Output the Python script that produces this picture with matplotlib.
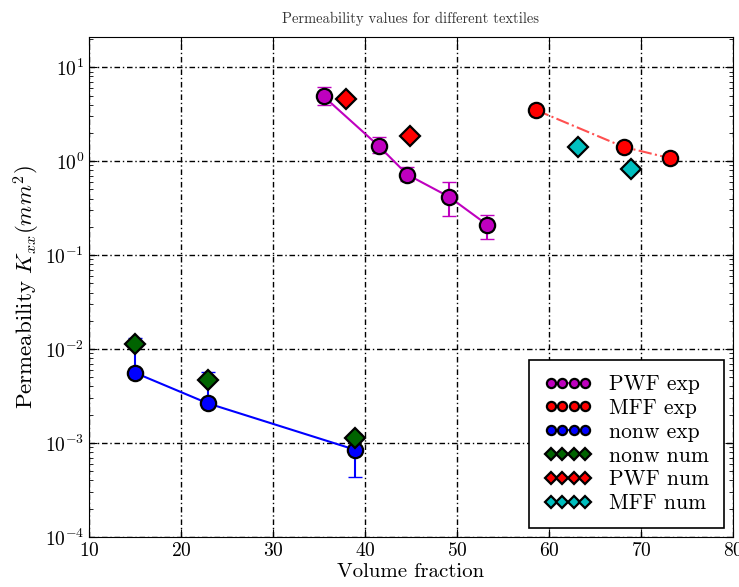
import matplotlib
matplotlib.use("Agg")
import matplotlib.pyplot as plt
import numpy as np

plt.rcParams['font.family'] = 'cmr10'
plt.rcParams['mathtext.fontset'] = 'cm'
plt.rcParams['axes.formatter.use_mathtext'] = True
plt.rcParams['xtick.direction'] = 'in'
plt.rcParams['ytick.direction'] = 'in'

# PWF experiments
pwf_x = [35.5, 41.5, 44.6, 49.1, 53.3]
pwf_k = [4.9, 1.45, 0.72, 0.42, 0.21]
pwf_lo = [0.9, 0.23, 0.10, 0.16, 0.06]
pwf_hi = [1.2, 0.35, 0.14, 0.18, 0.06]

# MFF experiments
mff_x = [58.6, 68.1, 73.1]
mff_k = [3.5, 1.42, 1.08]

# non-woven experiments
nonw_x = [15.0, 22.9, 38.9]
nonw_k = [0.0056, 0.00265, 0.00085]
nonw_lo = [0.0, 0.0, 0.00041]
nonw_hi = [0.0075, 0.003, 0.0004]

# numerical results
nonw_num_x = [15.0, 22.9, 38.9]
nonw_num_k = [0.0112, 0.0047, 0.00114]
pwf_num_x = [37.9, 44.9]
pwf_num_k = [4.6, 1.85]
mff_num_x = [63.2, 68.9]
mff_num_k = [1.41, 0.82]

fig = plt.figure(figsize=(7.39, 5.87), dpi=100)
ax = fig.add_axes([0.1204, 0.0852, 0.8715, 0.8518])

mk = dict(markersize=11, markeredgewidth=1.6, markeredgecolor='k')
dk = dict(markersize=10, markeredgewidth=1.6, markeredgecolor='k', linestyle='none')

# error bars first, markers on top
ax.errorbar(pwf_x, pwf_k, yerr=[pwf_lo, pwf_hi], fmt='none', ecolor='m', capsize=5, lw=1.5)
ax.errorbar(nonw_x, nonw_k, yerr=[nonw_lo, nonw_hi], fmt='none', ecolor='b', capsize=5, lw=1.5)

ax.plot(pwf_x, pwf_k, 'o-', color='m', lw=1.5, label='PWF exp', **mk)
ax.plot(mff_x, mff_k, '-.', color='#ff5050', lw=1.5, zorder=1)
ax.plot(mff_x, mff_k, 'o', color='r', label='MFF exp', **mk)
ax.plot(nonw_x, nonw_k, 'o-', color='b', lw=1.5, label='nonw exp', **mk)
ax.plot(nonw_num_x, nonw_num_k, 'D', color='#006400', label='nonw num', **dk)
ax.plot(pwf_num_x, pwf_num_k, 'D', color='r', label='PWF num', **dk)
ax.plot(mff_num_x, mff_num_k, 'D', color='#00bfbf', label='MFF num', **dk)

ax.set_yscale('log')
ax.set_xlim(10, 80)
ax.set_ylim(1e-4, 21)
ax.tick_params(which='both', top=True, right=True, labelsize=14)
ax.tick_params(which='major', length=6)
ax.tick_params(which='minor', length=3)
ax.grid(True, which='major', color='k', linestyle=(0, (4, 2, 1, 2)), lw=1)

ax.set_title('Permeability values for different textiles', fontsize=10.5, pad=10, color='#333333')
ax.set_xlabel('Volume fraction', fontsize=15, labelpad=2)
ax.set_ylabel(r'Permeability $K_{xx}(mm^2)$', fontsize=16.5, labelpad=2)

leg = ax.legend(loc='lower right', numpoints=4, markerscale=0.6, fontsize=15.5,
                handlelength=2.2, fancybox=False, framealpha=1,
                labelspacing=0.2, borderpad=0.7, borderaxespad=0.4)
leg.get_frame().set_edgecolor('k')
leg.get_frame().set_linewidth(1.2)

fig.savefig('out.png', dpi=100)
